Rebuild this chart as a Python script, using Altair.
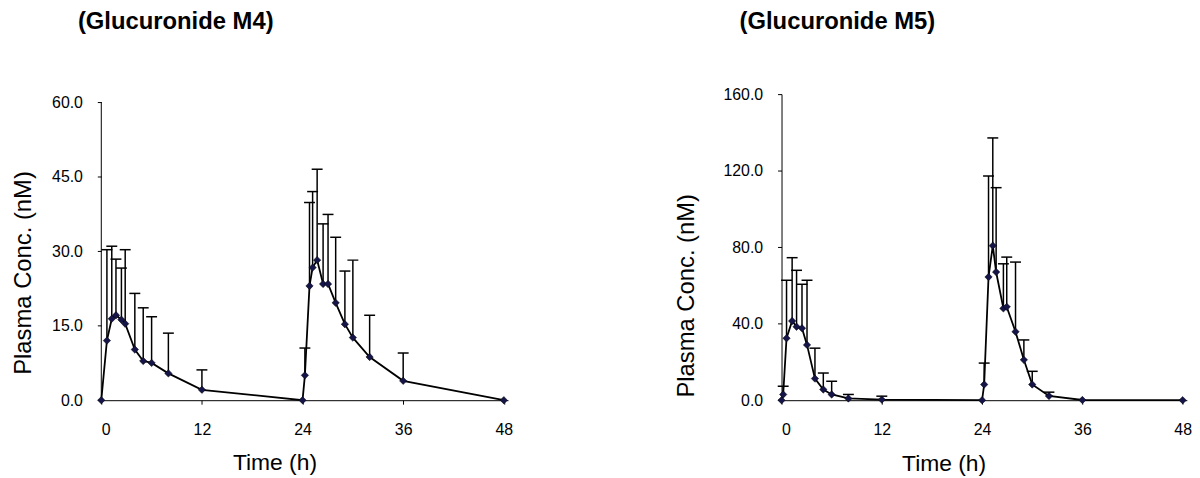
import altair as alt
import pandas as pd

# ---- data ----
titles = ["(Glucuronide M4)", "(Glucuronide M5)"]
x_ticks = [0, 12, 24, 36, 48]
m4_y_ticks = [0, 15, 30, 45, 60]
m5_y_ticks = [0, 40, 80, 120, 160]

m4_time = [0, 0.67, 1.25, 1.75, 2.4, 2.85, 4, 5, 6, 8, 12, 24,
           24.28, 24.83, 25.2, 25.74, 26.45, 27.04, 27.95, 29.05, 30, 32, 36, 48]
m4_mean = [0, 12.0, 16.4, 17.1, 16.2, 15.4, 10.2, 7.9, 7.5, 5.4, 2.1, 0,
           5.0, 23.0, 26.7, 28.2, 23.4, 23.4, 19.6, 15.3, 12.6, 8.7, 3.9, 0]
m4_sd = [0, 18.3, 14.6, 11.3, 10.4, 14.9, 11.3, 10.7, 9.3, 8.1, 4.0, 0,
         5.5, 16.8, 15.3, 18.3, 12.1, 14.0, 13.2, 10.7, 15.6, 8.4, 5.6, 0]

m5_time = [0, 0.2, 0.6, 1.27, 1.8, 2.45, 3.05, 4, 5, 6, 8, 12, 24,
           24.25, 24.77, 25.28, 25.68, 26.55, 26.95, 28, 29, 30, 32, 36, 48]
m5_mean = [0, 3.0, 32.4, 41.4, 38.4, 37.6, 28.9, 11.3, 5.6, 3.0, 0.9, 0.3, 0,
           8.2, 64.4, 80.8, 67.0, 48.0, 48.8, 35.8, 21.1, 8.2, 2.2, 0.1, 0]
m5_sd = [0, 4.3, 30.3, 33.1, 29.5, 23.0, 33.8, 15.9, 8.6, 6.9, 2.1, 1.8, 0,
         11.2, 52.8, 56.3, 44.1, 23.3, 26.0, 36.4, 10.4, 6.9, 2.0, 0, 0]

FONT = "Liberation Sans"
H = 308.4


def panel(time, mean, sd, title, yticks, ydomain_max, width, xt, xty, ytx, yty, title_x, with_rule):
    df = pd.DataFrame({"t": time, "mean": mean, "sd": sd})
    xs = alt.Scale(domain=[0, 48.5], nice=False, zero=False)
    ys = alt.Scale(domain=[0, ydomain_max], nice=False)
    xax = alt.Axis(values=x_ticks, format="d", title="Time (h)", titleFontSize=23,
                   titleFontWeight="normal", titleX=xt, titleY=xty, titleBaseline="alphabetic",
                   titleAlign="center", labelFontSize=16, labelPadding=18, tickSize=4)
    yax = alt.Axis(values=yticks, format=".1f", title="Plasma Conc. (nM)", titleFontSize=24,
                   titleFontWeight="normal", titleX=ytx, titleY=yty, titleBaseline="bottom",
                   titleAlign="center", labelFontSize=16, labelPadding=15, tickSize=4,
                   domain=not with_rule)
    base = alt.Chart(df)
    err = base.transform_filter("datum.sd > 0").transform_calculate(upper="datum.mean + datum.sd")
    bars = err.mark_rule(color="black", strokeWidth=1.5).encode(
        x=alt.X("t:Q", scale=xs, axis=xax), y=alt.Y("mean:Q", scale=ys, axis=yax), y2="upper:Q")
    caps = err.mark_tick(orient="horizontal", size=11, thickness=1.5, color="black", opacity=1).encode(
        x="t:Q", y="upper:Q")
    line = base.mark_line(color="black", strokeWidth=1.8).encode(x="t:Q", y="mean:Q")
    pts = base.mark_point(shape="diamond", filled=True, size=55, color="#15154a",
                          stroke="#000000", strokeWidth=0.5, opacity=1).encode(x="t:Q", y="mean:Q")
    ttl = alt.Chart(pd.DataFrame({"title": [title]})).mark_text(
        font=FONT, fontSize=24, fontWeight="bold", align="center", baseline="alphabetic", color="black"
    ).encode(x=alt.value(title_x), y=alt.value(-65.3), text="title:N")
    layers = [bars, caps, line, pts, ttl]
    if with_rule:
        rdf = pd.DataFrame({"y0": [0], "y1": [yticks[-1]]})
        rule = alt.Chart(rdf).mark_rule(color="black", strokeWidth=1).encode(
            x=alt.value(0), y="y0:Q", y2="y1:Q")
        layers.insert(0, rule)
    return alt.layer(*layers).properties(width=width, height=H)


left = panel(m4_time, m4_mean, m4_sd, titles[0], m4_y_ticks, 61.62, 409.8,
             174.5, 70, -66.5, 179.7, 75, True)
right = panel(m5_time, m5_mean, m5_sd, titles[1], m5_y_ticks, 160, 408.4,
              163.3, 71, -84, 202.7, 56.3, False)

chart = alt.hconcat(left, right, spacing=275.4, bounds="flush").properties(
    padding={"left": 3, "top": 0, "right": 0, "bottom": 0}
).configure_view(stroke=None).configure_axis(
    grid=False, domainColor="black", domainWidth=1, tickColor="black", tickWidth=1,
    labelColor="black", titleColor="black", labelFont=FONT, titleFont=FONT
).configure_text(font=FONT)

chart.save("out.html", embed_options={"renderer": "svg", "actions": False})
